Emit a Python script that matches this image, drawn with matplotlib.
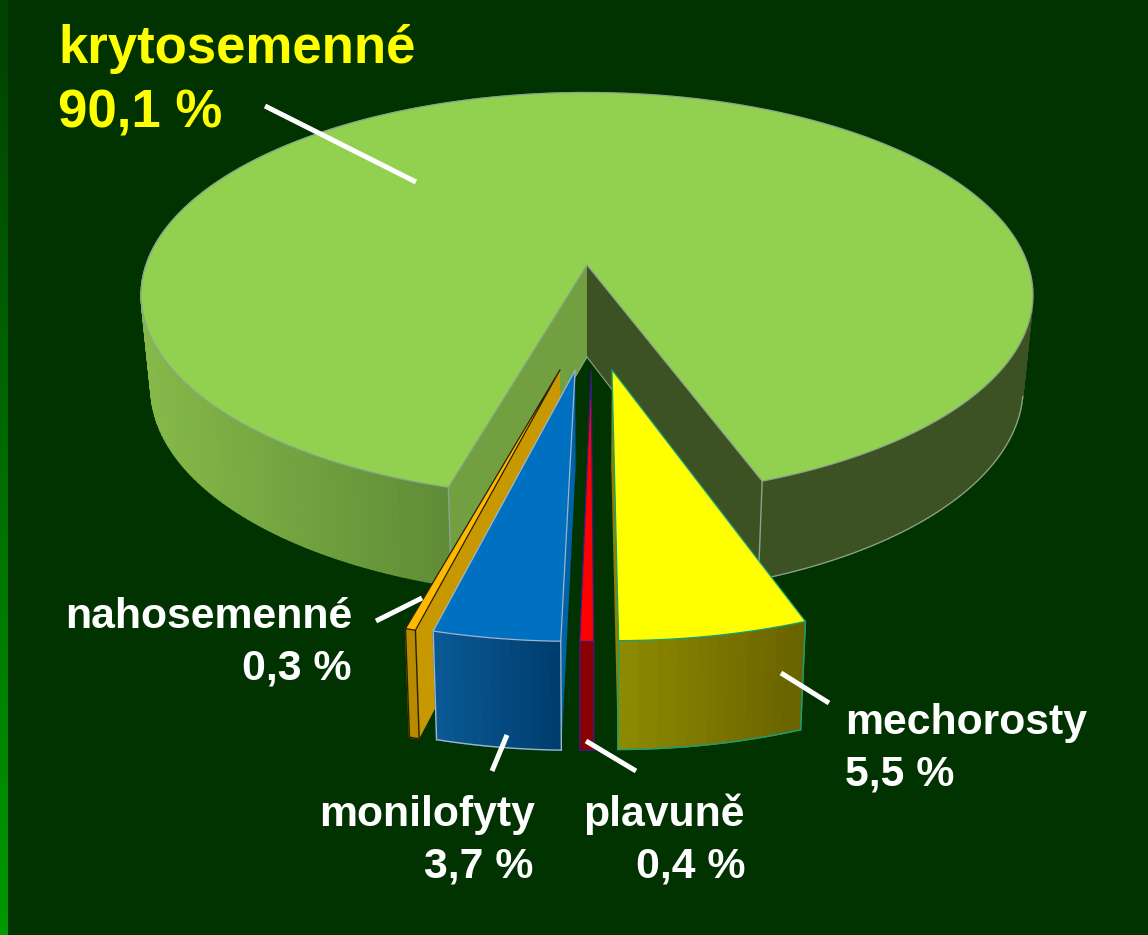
import numpy as np
import matplotlib
matplotlib.use("Agg")
import matplotlib.pyplot as plt

# ---- data (percent share of each plant group, in drawing order round the pie)
groups = ["krytosemenné", "nahosemenné", "monilofyty", "plavuně", "mechorosty"]
shares = [90.1, 0.3, 3.7, 0.4, 5.5]
share_labels = ["90,1 %", "0,3 %", "3,7 %", "0,4 %", "5,5 %"]

# ---- styles
explode_dist = [0.0, 0.494, 0.494, 0.494, 0.494]
explode_dir = [0.0, -6.6, -2.9, 1.0, 6.1]
top_cols = ["#92D050", "#FFB900", "#0070C0", "#FF0000", "#FFFF00"]
wall_left = ["#85B849", "#B88A00", "#0A5A96", "#8B0000", "#8F8B00"]
wall_right = ["#3D5222", "#B88A00", "#003D6E", "#8B0000", "#686200"]
side_a = ["#3D5222", "#C89800", "#0062A8", "#8B0000", "#8F8000"]
side_b = ["#72A040", "#C89800", "#0062A8", "#8B0000", "#8F8000"]
edge_cols = ["#8AA58F", "#2A2000", "#9DB4CC", "#30207A", "#14A080"]
BG = "#003300"
START = 20.0  # pie rotation, degrees from the viewer direction

# camera of the pie (perspective of the plate)
CX, Y0T, Y0B, A, BT, BB, K, XSC = 587.0, 265.0, 357.0, 441.0, 198.0, 204.0, 0.148, 0.978
DROP = 5.5  # extra wall height of the pulled-out slices


def proj(u, v, bottom=False, extra=0.0):
    u, v = np.asarray(u, float), np.asarray(v, float)
    w = 1 + K * v
    if bottom:
        return CX + XSC * A * u / w, Y0B + extra - BB * v / w
    return CX + A * u / w, Y0T - BT * v / w


def lerp_col(c1, c2, t):
    a = np.array(matplotlib.colors.to_rgb(c1))
    b = np.array(matplotlib.colors.to_rgb(c2))
    return tuple(a + (b - a) * t)


fig = plt.figure(figsize=(11.48, 9.35), dpi=100, facecolor=BG)
ax = fig.add_axes([0, 0, 1, 1])
ax.set_xlim(0, 1148)
ax.set_ylim(935, 0)
ax.axis("off")

# left strip with vertical gradient
strip = np.linspace(0, 1, 256).reshape(-1, 1, 1)
c_top = np.array(matplotlib.colors.to_rgb("#004000")).reshape(1, 1, 3)
c_bot = np.array(matplotlib.colors.to_rgb("#009900")).reshape(1, 1, 3)
ax.imshow(c_top + (c_bot - c_top) * strip, extent=(0, 8, 935, 0), aspect="auto", zorder=1)
ax.set_xlim(0, 1148)
ax.set_ylim(935, 0)

edges = START + np.cumsum([0] + [s * 3.6 for s in shares])
for i in range(len(shares)):
    a0, a1 = edges[i], edges[i + 1]
    phi = np.radians(np.linspace(a0, a1, max(8, int(a1 - a0) + 1)))
    d, dr = explode_dist[i], np.radians(explode_dir[i])
    ou, ov = d * np.sin(dr), -d * np.cos(dr)
    R = 1.0 if i == 0 else 0.99
    extra = 0.0 if i == 0 else DROP
    u = ou + R * np.sin(phi)
    v = ov - R * np.cos(phi)
    tx, ty = proj(u, v)
    bx, by = proj(u, v, True, extra)
    ax0, ay0 = proj(ou, ov)
    bx0, by0 = proj(ou, ov, True, extra)
    z = 10 + i * 10
    ec = edge_cols[i]

    # outer wall, shaded along the screen
    if i == 0:
        for j in range(len(phi) - 1):
            if tx[j] < CX:
                t = np.clip((tx[j] - 150) / (448 - 150), 0, 1)
                col = lerp_col(wall_left[0], "#5F8B36", t)
            else:
                col = wall_right[0]
            ax.fill([tx[j], tx[j + 1], bx[j + 1], bx[j]],
                    [ty[j], ty[j + 1], by[j + 1], by[j]],
                    color=col, lw=1.0, zorder=z)
        right = (bx > CX) & (by > 395)
        ax.plot(bx[right], by[right], color=ec, lw=0.9, zorder=z)
    else:
        lo, hi = tx.min(), tx.max()
        for j in range(len(phi) - 1):
            t = (0.5 * (tx[j] + tx[j + 1]) - lo) / max(hi - lo, 1)
            ax.fill([tx[j], tx[j + 1], bx[j + 1], bx[j]],
                    [ty[j], ty[j + 1], by[j + 1], by[j]],
                    color=lerp_col(wall_left[i], wall_right[i], t), lw=1.0, zorder=z + 1)
        ax.plot(bx, by, color=ec, lw=1.0, zorder=z + 2)
        ax.plot([tx[0], bx[0]], [ty[0], by[0]], color=ec, lw=1.0, zorder=z + 2)
        ax.plot([tx[-1], bx[-1]], [ty[-1], by[-1]], color=ec, lw=1.0, zorder=z + 2)

    # cut faces
    ax.fill([ax0, tx[0], bx[0], bx0], [ay0, ty[0], by[0], by0],
            color=side_a[i], lw=0, zorder=z)
    ax.fill([ax0, tx[-1], bx[-1], bx0], [ay0, ty[-1], by[-1], by0],
            color=side_b[i], lw=0, zorder=z)
    if i == 0:
        ax.plot([tx[0], bx[0]], [ty[0], by[0]], color=ec, lw=1.0, zorder=z + 1)
        ax.plot([tx[-1], bx[-1]], [ty[-1], by[-1]], color=ec, lw=1.0, zorder=z + 1)
        ax.plot([bx0, bx[0]], [by0, by[0]], color=ec, lw=0.8, zorder=z + 1)
        ax.plot([bx0, bx[-1]], [by0, by[-1]], color=ec, lw=0.8, zorder=z + 1)

    # plate
    ax.fill(np.r_[ax0, tx], np.r_[ay0, ty], facecolor=top_cols[i],
            edgecolor=ec, lw=0.9, zorder=z + 3, joinstyle="round")

# ---- text
FONT = "Liberation Sans"
def txt(x, y, s, ha="left", col="white", size=30.8):
    ax.text(x, y, s, ha=ha, va="baseline", color=col, fontsize=size,
            fontweight="bold", family=FONT, zorder=100)

txt(58, 63, groups[0], col="#FFFF00", size=38)
txt(58, 127, share_labels[0], col="#FFFF00", size=38)
txt(352, 628, groups[1], ha="right")
txt(352, 680, share_labels[1], ha="right")
txt(535, 826, groups[2], ha="right")
txt(533, 877, share_labels[2], ha="right")
txt(745, 826, groups[3], ha="right")
txt(745, 877, share_labels[3], ha="right")
txt(845, 734, groups[4])
txt(845, 785, share_labels[4])

# ---- leader lines
leaders = [((265, 106), (416, 182)), ((376, 621), (422, 598)), ((781, 673), (829, 703)),
           ((507, 735), (492, 771)), ((586, 741), (636, 771))]
for (x0, y0), (x1, y1) in leaders:
    ax.plot([x0, x1], [y0, y1], color="white", lw=3.6, solid_capstyle="butt", zorder=90)

fig.savefig("out.png", dpi=100, facecolor=BG)
